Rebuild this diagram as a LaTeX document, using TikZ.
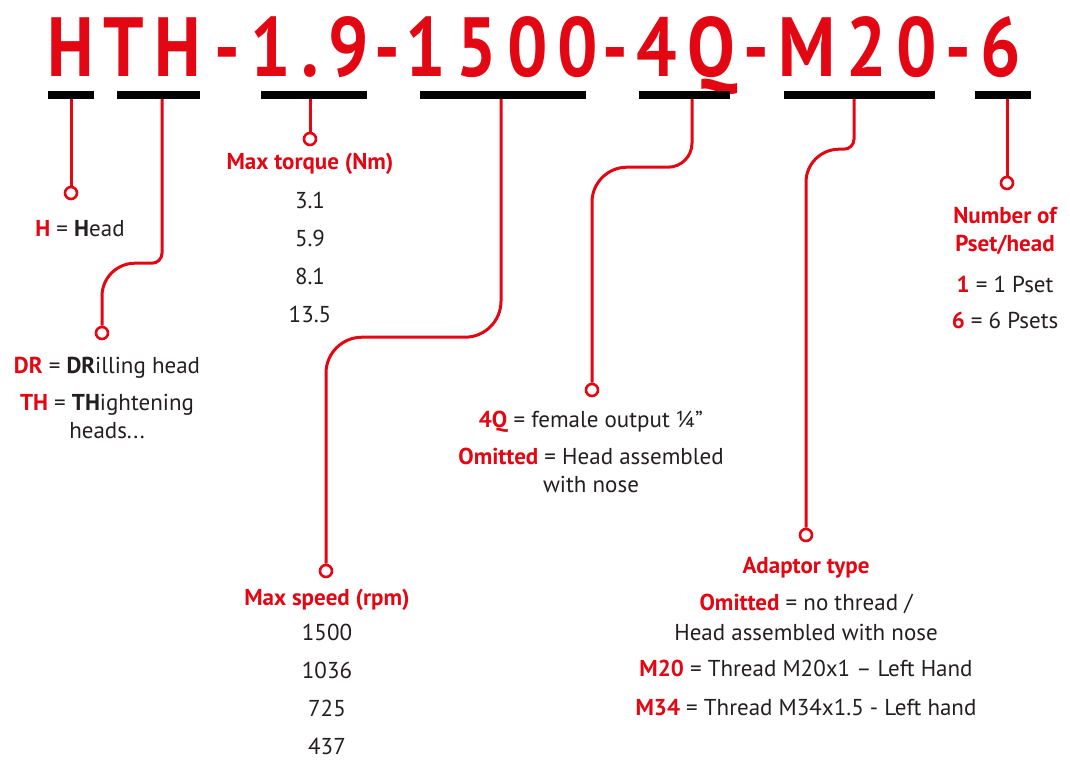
\documentclass[tikz,border=0pt]{standalone}
\usepackage{fontspec}
\setmainfont{PT Sans}
\newfontfamily\codefont[FakeStretch=0.85,LetterSpace=12]{PT Sans}
\usetikzlibrary{positioning}
\definecolor{hred}{RGB}{227,6,19}
\definecolor{htext}{RGB}{35,31,32}

\begin{document}
\begin{tikzpicture}[x=1pt,y=-1pt,font=\fontsize{23}{28}\selectfont,
code/.style={font=\codefont\bfseries\fontsize{84}{84}\selectfont,text=hred,anchor=base,inner sep=0},
bar/.style={fill=black,minimum height=8,inner sep=0},
link/.style={draw=hred,line width=3},
dot/.style={circle,draw=hred,fill=white,line width=2.6,minimum size=12,inner sep=0},
head/.style={font=\bfseries\fontsize{23}{28}\selectfont,text=hred,anchor=base,align=center,inner sep=0},
txt/.style={text=htext,anchor=base,align=center,inner sep=0},
vals/.style={txt,font=\fontsize{23}{38}\selectfont}]
\useasboundingbox (0,0) rectangle (1070,760);

% code string
\node[code] (cHTH) at (124,76) {HTH};
\node[code] (d1) at (227,76) {-};
\node[code] (cTq) at (310,76) {1.9};
\node[code] (d2) at (387,76) {-};
\node[code] (cSp) at (502,76) {1500};
\node[code] (d3) at (615,76) {-};
\node[code] (c4Q) at (686,76) {4Q};
\node[code] (d4) at (756,76) {-};
\node[code] (cM) at (858,76) {M20};
\node[code] (d5) at (958,76) {-};
\node[code] (cPs) at (1001,76) {6};

% underlines
\node[bar,minimum width=46] (bH) at (71,95) {};
\node[bar,minimum width=83] (bTH) at (158.5,95) {};
\node[bar,minimum width=106] (bTq) at (314,95) {};
\node[bar,minimum width=166] (bSp) at (503,95) {};
\node[bar,minimum width=91] (b4Q) at (684.5,95) {};
\node[bar,minimum width=151] (bM) at (859.5,95) {};
\node[bar,minimum width=56] (bPs) at (1003,95) {};

% end points
\node[dot] (pH) at (71,193) {};
\node[dot] (pTH) at (102,333) {};
\node[dot] (pTq) at (310,139) {};
\node[dot] (pSp) at (326,571) {};
\node[dot] (p4Q) at (592,390) {};
\node[dot] (pM) at (806,535) {};
\node[dot] (pPs) at (1007,183) {};

\draw[link] (bH.south -| pH) -- (pH);
\draw[link] ([xshift=3.5]bTH.south) [rounded corners=10] -- ++(0,164) [rounded corners=33] -| (pTH);
\draw[link] (bTq.south -| pTq) -- (pTq);
\draw[link] ([xshift=-2]bSp.south) [rounded corners=36] -- ++(0,238) -| (pSp);
\draw[link] ([xshift=7.5]b4Q.south) [rounded corners=24] -- ++(0,68) [rounded corners=35] -| (p4Q);
\draw[link] ([xshift=-5.5]bM.south) [rounded corners=10] -- ++(0,50) [rounded corners=33] -| (pM);
\draw[link] (bPs.south -| pPs) -- (pPs);

% labels (multi-line nodes sit on their last line)
\node[txt] (tH) at (80,236) {\textcolor{hred}{\bfseries H} = \textbf{H}ead};
\node[txt] (tDR) at (107,373) {\textcolor{hred}{\bfseries DR} = \textbf{DR}illing head};
\node[txt] (tTH) at (107,438) {\textcolor{hred}{\bfseries TH} = \textbf{TH}ightening\\heads...};

\node[head] (hTq) at (310,169) {Max torque (Nm)};
\node[vals] (vTq) at (310,322) {3.1\\5.9\\8.1\\13.5};

\node[head] (hSp) at (327,605) {Max speed (rpm)};
\node[vals] (vSp) at (327,754) {1500\\1036\\725\\437};

\node[txt] (t4Q) at (591,427) {\textcolor{hred}{\bfseries 4Q} = female output ¼"};
\node[txt] (tOm) at (591,492) {\textcolor{hred}{\bfseries Omitted} = Head assembled\\with nose};

\node[head] (hAd) at (806,573) {Adaptor type};
\node[txt,font=\fontsize{23}{30}\selectfont] (tAd) at (806,640) {\textcolor{hred}{\bfseries Omitted} = no thread /\\Head assembled with nose};
\node[txt] (tM20) at (806,676) {\textcolor{hred}{\bfseries M20} = Thread M20x1 – Left Hand};
\node[txt] (tM34) at (806,715) {\textcolor{hred}{\bfseries M34} = Thread M34x1.5 - Left hand};

\node[head] (hPs) at (1005,251) {Number of\\Pset/head};
\node[txt,font=\fontsize{23}{36}\selectfont] (tPs) at (1005,328) {\textcolor{hred}{\bfseries 1} = 1 Pset\\\textcolor{hred}{\bfseries 6} = 6 Psets};
\end{tikzpicture}
\end{document}
